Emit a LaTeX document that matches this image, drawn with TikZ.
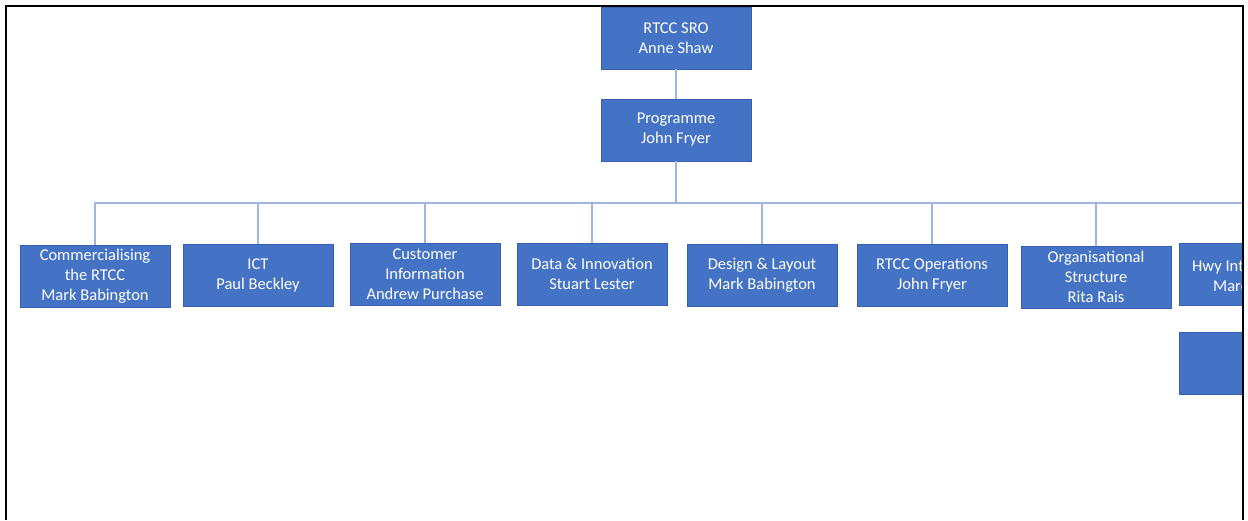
\documentclass[tikz,border=0pt]{standalone}
\usepackage{fontspec}
\setmainfont{Carlito}
\definecolor{boxfill}{HTML}{4472C4}
\definecolor{boxline}{HTML}{3560AE}
\definecolor{conncol}{HTML}{9DB5E0}
\begin{document}
\begin{tikzpicture}[x=1pt,y=-1pt,
  orgbox/.style={rectangle, fill=boxfill, draw=boxline, line width=0.8pt,
    minimum width=150pt, minimum height=62pt, inner sep=0pt, align=center,
    text=white, font=\fontsize{16.5}{20}\selectfont},
  boxtext/.style={text=white, font=\fontsize{16.5}{20}\selectfont, inner sep=0pt, anchor=base west},
  conn/.style={draw=conncol, line width=1.2pt},
  frame/.style={draw=black, line width=2pt}]
\useasboundingbox (0,0) rectangle (1248,520);
\begin{scope}
\clip (0,0) rectangle (1243,520);
\node[orgbox] (sro)  at (676,38)  {RTCC SRO\\Anne Shaw};
\node[orgbox] (prog) at (676,130) {Programme\\John Fryer};
\node[orgbox] (c1) at (95,276)    {Commercialising\\the RTCC\\Mark Babington};
\node[orgbox] (c2) at (258,275.5) {ICT\\Paul Beckley};
\node[orgbox] (c3) at (425,274)   {Customer\\Information\\Andrew Purchase};
\node[orgbox] (c4) at (592,274)   {Data \& Innovation\\Stuart Lester};
\node[orgbox] (c5) at (762,275)   {Design \& Layout\\Mark Babington};
\node[orgbox] (c6) at (932,275)   {RTCC Operations\\John Fryer};
\node[orgbox] (c7) at (1096,277)  {Organisational\\Structure\\Rita Rais};
\node[orgbox] (c8) at (1254,274)  {};
\node[boxtext] (c8a) at (1192,271) {Hwy Int};
\node[boxtext] (c8b) at (1213,291) {Marc};
\node[orgbox] (c9) at (1254,363)  {};
\coordinate (bus) at (676,203);
\coordinate (busend) at (1250,203);
\draw[conn] (sro.south) -- (prog.north);
\draw[conn] (prog.south) -- (bus);
\draw[conn] (bus) -| (c1.north);
\draw[conn] (bus) -- (busend);
\foreach \n in {c2,c3,c4,c5,c6,c7}{
  \draw[conn] (bus) -| (\n.north);
}
\end{scope}
\coordinate (fl) at (6,520);
\coordinate (ftl) at (6,6);
\coordinate (ftr) at (1243,6);
\coordinate (fr) at (1243,520);
\draw[frame] (fl) -- (ftl) -- (ftr) -- (fr);
\end{tikzpicture}
\end{document}
